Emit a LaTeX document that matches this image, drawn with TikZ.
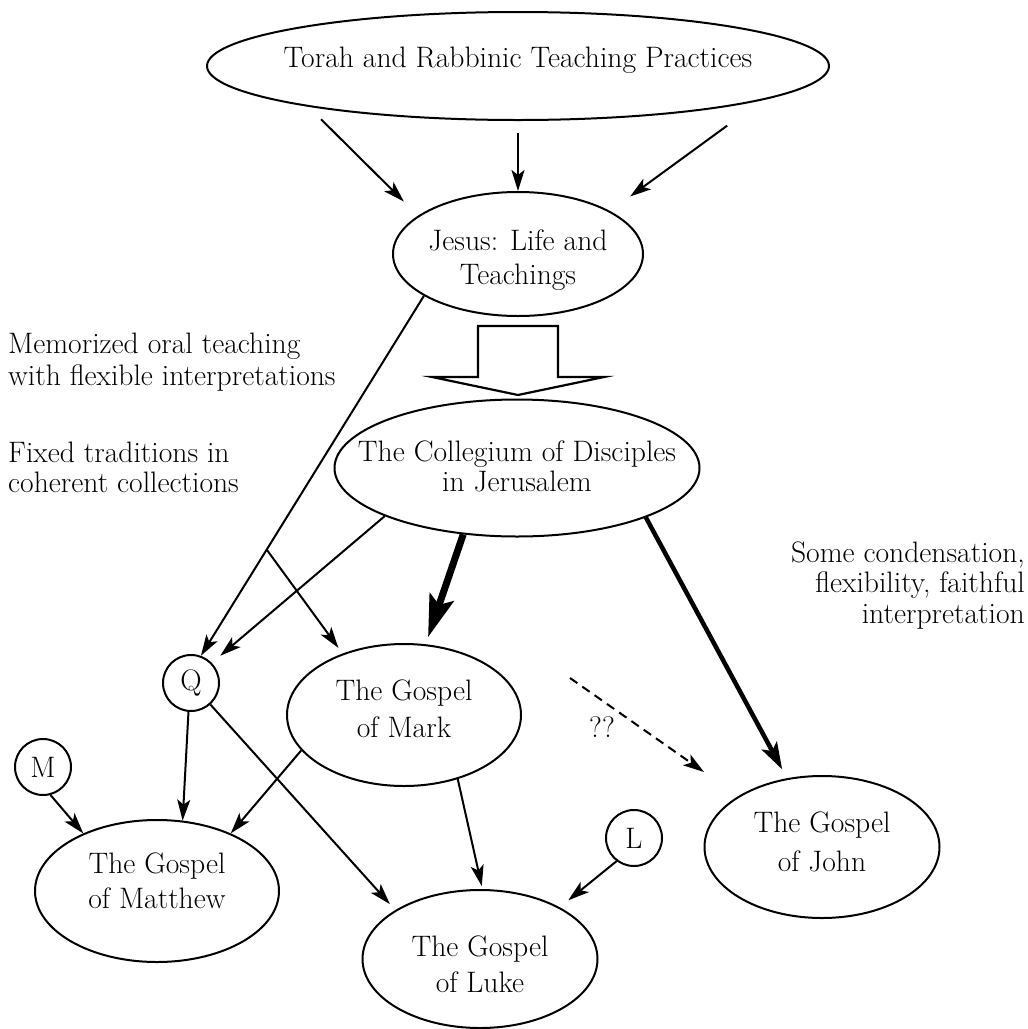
\documentclass[tikz,border=0pt]{standalone}
\usepackage{fontspec}
\usetikzlibrary{shapes.geometric,arrows.meta,calc}
\begin{document}
\begin{tikzpicture}[x=1pt,y=-1pt,
  every node/.style={font=\fontsize{29.6}{31}\selectfont, inner sep=0pt},
  oval/.style={draw, ellipse, line width=2pt},
  src/.style={draw, circle, line width=2pt, minimum size=56pt},
  conn/.style={line width=2pt, -{Stealth[length=21pt,width=13pt,inset=5pt]}},
  heavy/.style={line width=4.5pt, -{Stealth[length=27pt,width=17pt,inset=6pt]}},
  heavier/.style={line width=7pt, -{Stealth[length=42pt,width=25pt,inset=8pt]}},
  guess/.style={line width=2pt, dash pattern=on 9pt off 6pt, -{Stealth[length=21pt,width=13pt,inset=5pt]}},
  sp/.style={font=\fontsize{29.6}{#1}\selectfont}
]
\fill[white] (0,0) rectangle (1028,1029);
\useasboundingbox (0,0) rectangle (1028,1029);

% ellipses
\node[oval, minimum width=622pt, minimum height=108pt,
  label={[yshift=5.4pt]center:{Torah and Rabbinic Teaching Practices}}] (torah) at (518,66) {};
\node[oval, minimum width=250pt, minimum height=124pt,
  label={[align=center,sp=34,yshift=-6.6pt]center:{Jesus: Life and\\Teachings}}] (jesus) at (518,254) {};
\node[oval, minimum width=365pt, minimum height=137pt,
  label={[align=center,sp=30,yshift=1.2pt]center:{The Collegium of Disciples\\in Jerusalem}}] (coll) at (517,468) {};
\node[oval, minimum width=234pt, minimum height=142pt,
  label={[align=center,sp=37,yshift=6.7pt]center:{The Gospel\\of Mark}}] (mark) at (404,715) {};
\node[oval, minimum width=244pt, minimum height=142pt,
  label={[align=center,sp=35,yshift=10.7pt]center:{The Gospel\\of Matthew}}] (matthew) at (157,891) {};
\node[oval, minimum width=235pt, minimum height=138pt,
  label={[align=center,sp=36,yshift=-5.7pt]center:{The Gospel\\of Luke}}] (luke) at (480,959) {};
\node[oval, minimum width=235pt, minimum height=142pt,
  label={[align=center,sp=39,yshift=4.7pt]center:{The Gospel\\of John}}] (john) at (822,847) {};

% source circles
\node[src] (q) at (191,683) {Q};
\node[src] (m) at (43,767) {M};
\node[src] (l) at (634,838) {L};

% side notes (base = last line)
\node[anchor=base west, align=left, sp=32] (memo) at (8,385) {Memorized oral teaching\\with flexible interpretations};
\node[anchor=base west, align=left, sp=30] (fixed) at (8,492) {Fixed traditions in\\coherent collections};
\node[anchor=base east, align=right, sp=30.5] (some) at (1025,623) {Some condensation,\\flexibility, faithful\\interpretation};
\node[anchor=base] (qq) at (602,737) {??};

% Torah -> Jesus
\draw[conn, shorten <=17.9pt, shorten >=20pt] (torah.191.9) -- (jesus.159.8);
\draw[conn, shorten <=12pt] (torah.270) -- (jesus.90);
\draw[conn, shorten <=43pt, shorten >=24.7pt] (torah.352.4) -- (jesus.25);

% Jesus -> Collegium block arrow
\draw[line width=2.2pt, line join=miter] (478,326) -- (558,326) -- (558,377) -- (604,377)
  -- (518,395) -- (432,377) -- (478,377) -- cycle;

% Jesus -> Q, with fork to Mark
\draw[conn] (jesus.204) -- (q.70.5);
\coordinate (fork) at ($(jesus.204)!0.705!(q.70.5)$);
\draw[conn, shorten >=7pt] (fork) -- (mark.135);

% Collegium
\draw[conn, shorten >=11pt] (coll.200.5) -- (q.44);
\draw[heavier, shorten >=7.5pt] (coll.231.3) -- (mark.73.6);
\draw[heavy, shorten >=10pt] (coll.339.4) -- (john.117.5);

% dashed Mark?->John
\coordinate (dA) at (570,678);
\coordinate (dB) at (704,772);
\draw[guess] (dA) -- (dB);

% sources to gospels
\draw[conn] (q.265) -- (matthew.70);
\draw[conn, shorten >=8pt] (q.312) -- (luke.150.5);
\draw[conn] (m.285) -- (matthew.142.6);
\draw[conn] (mark.199.1) -- (matthew.38);
\draw[conn, shorten >=3pt] (mark.310.2) -- (luke.88.4);
\draw[conn, shorten >=11pt] (l.233) -- (luke.33.7);
\end{tikzpicture}
\end{document}
